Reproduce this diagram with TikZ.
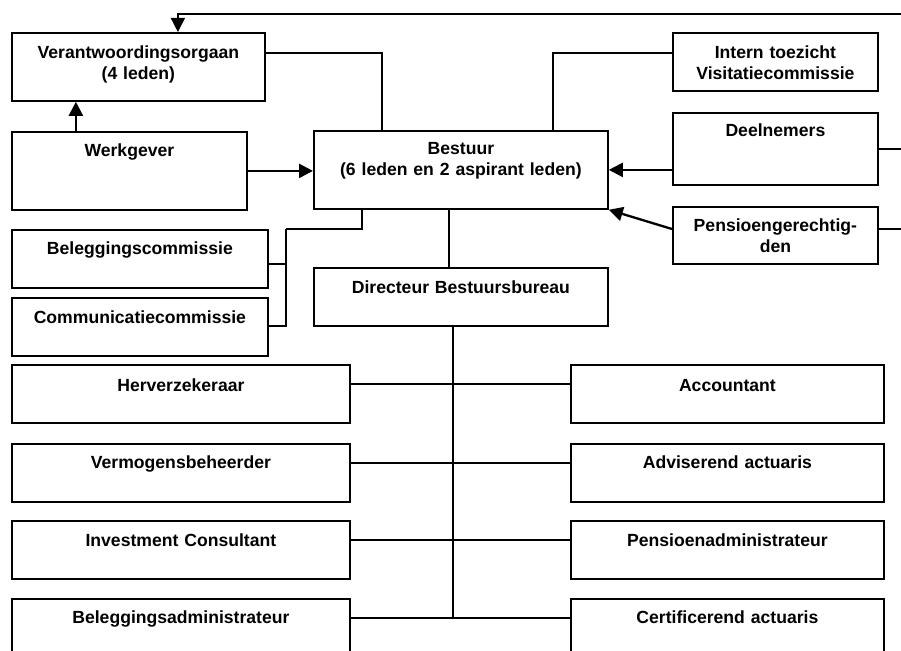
\documentclass[tikz,border=0pt]{standalone}
\usepackage{fontspec}
\setmainfont{Liberation Sans}
\usepackage{tikz}
\usetikzlibrary{calc}
\usetikzlibrary{arrows.meta}
\newcommand{\orgfont}{\fontsize{17.6}{21}\selectfont\bfseries}
\tikzset{
  orgbox/.style={draw, line width=1.8pt, inner sep=0pt, align=center, font=\orgfont,
    text height=26pt, text depth=32pt, anchor=north west},
  conn/.style={line width=1.3pt},
  arr/.style={line width=2.3pt, -{Triangle[length=14pt,width=14pt]}},
  thinarr/.style={line width=1.4pt, -{Triangle[length=14pt,width=14pt]}}
}

\begin{document}
\begin{tikzpicture}[x=1pt,y=-1pt]
                \useasboundingbox (0,0) rectangle (901,650);
                \clip (0,0) rectangle (901,650);

                % top row
                \node[orgbox, text width=253pt, text depth=42pt] (verant) at (11,32) {Verantwoordingsorgaan\\(4 leden)};
                \node[orgbox, text width=205pt] (intern) at (672,32) {Intern toezicht\\Visitatiecommissie};

                % middle
                \node[orgbox, text width=235pt, text height=25pt, text depth=53pt] (werk) at (11,131) {Werkgever};
                \node[orgbox, text width=294pt, text height=24pt, text depth=54pt] (bestuur) at (313,130) {Bestuur\\(6 leden en 2 aspirant leden)};
                \node[orgbox, text width=205pt, text height=24pt, text depth=48pt] (deel) at (672,112) {Deelnemers};
                \node[orgbox, text width=205pt, text height=25pt] (pens) at (672,206) {Pensioengerechtig-\\den};

                % commissies
                \node[orgbox, text width=256pt, text height=25pt, text depth=33pt] (beleg) at (11,229) {Beleggingscommissie};
                \node[orgbox, text width=256pt] (comm) at (11,297) {Communicatiecommissie};
                \node[orgbox, text width=294pt] (dir) at (313,267) {Directeur Bestuursbureau};

                % uitbesteding
                \node[orgbox, text width=338pt, text height=27pt, text depth=31pt] (herv) at (11,364) {Herverzekeraar};
                \node[orgbox, text width=313pt, text height=27pt, text depth=31pt] (acc) at (570,364) {Accountant};
                \node[orgbox, text width=338pt, text height=25pt, text depth=33pt] (verm) at (11,443) {Vermogensbeheerder};
                \node[orgbox, text width=313pt, text height=25pt, text depth=33pt] (adv) at (570,443) {Adviserend actuaris};
                \node[orgbox, text width=338pt] (inv) at (11,520) {Investment Consultant};
                \node[orgbox, text width=313pt] (pensadm) at (570,520) {Pensioenadministrateur};
                \node[orgbox, text width=338pt, text height=25pt, text depth=33pt] (belad) at (11,598) {Beleggingsadministrateur};
                \node[orgbox, text width=313pt, text height=25pt, text depth=33pt] (cert) at (570,598) {Certificerend actuaris};

                % loose ends at the right edge
                \coordinate (edgeT) at (901,14);
                \coordinate (edgeP) at (901,229);
                \coordinate (bus) at (286,229);

                % lines to Bestuur
                \draw[conn] ([yshift=14pt]verant.east) -| ([xshift=-79pt]bestuur.north);
                \draw[conn] ([yshift=9pt]intern.west) -| ([xshift=92pt]bestuur.north);
                \draw[thinarr] (edgeT) -| ([xshift=39.5pt]verant.north);
                \draw[arr] ([xshift=-53.5pt]werk.north) -- ([xshift=-62.5pt]verant.south);
                \draw[arr] (werk.east) -- (werk.east -| bestuur.west);
                \draw[arr] (bestuur.east -| deel.west) -- (bestuur.east);
                \draw[arr] (edgeP -| pens.west) -- (bestuur.south east);
                \draw[conn] (deel.east) -- (deel.east -| edgeT);
                \draw[conn] (edgeP -| pens.east) -- (edgeP);

                % commissies
                \draw[conn] ([xshift=-99pt]bestuur.south) |- (bus);
                \draw[conn] (bus) |- ([yshift=1pt]comm.east);
                \draw[conn] ([yshift=-5pt]beleg.east) -| (bus);

                % bestuursbureau
                \draw[conn] ([xshift=-12pt]bestuur.south) -- ([xshift=-12pt]dir.north);
                \draw[conn] ([xshift=-8pt]dir.south) |- ([yshift=10pt]belad.east);
                \draw[conn] ([yshift=10pt]herv.east) -- ([yshift=10pt]acc.west);
                \draw[conn] ([yshift=10pt]verm.east) -- ([yshift=10pt]adv.west);
                \draw[conn] ([yshift=10pt]inv.east) -- ([yshift=10pt]pensadm.west);
                \draw[conn] ([yshift=10pt]belad.east) -- ([yshift=10pt]cert.west);
\end{tikzpicture}
\end{document}
